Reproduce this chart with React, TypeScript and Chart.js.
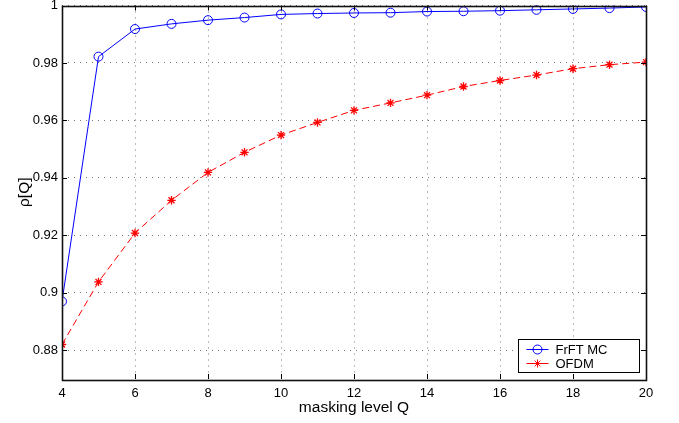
import React, { useEffect, useRef } from "react";
import { Chart, registerables } from "chart.js";

Chart.register(...registerables);

const qValues = [4, 5, 6, 7, 8, 9, 10, 11, 12, 13, 14, 15, 16, 17, 18, 19, 20];
const frftMC = [0.897, 0.9822, 0.9918, 0.9936, 0.9949, 0.9958, 0.9969, 0.9972, 0.9974, 0.9975, 0.9979, 0.998, 0.9982, 0.9985, 0.9988, 0.9991, 0.9995];
const ofdm = [0.882, 0.9038, 0.9208, 0.9322, 0.9419, 0.9489, 0.9549, 0.9593, 0.9635, 0.9661, 0.9688, 0.9718, 0.9739, 0.9758, 0.978, 0.9794, 0.9803];
const seriesLabels = ["FrFT MC", "OFDM"];
const xTickValues = [4, 6, 8, 10, 12, 14, 16, 18, 20];
const xTickLabels = ["4", "6", "8", "10", "12", "14", "16", "18", "20"];
const yTickValues = [0.88, 0.9, 0.92, 0.94, 0.96, 0.98, 1];
const yTickLabels = ["0.88", "0.9", "0.92", "0.94", "0.96", "0.98", "1"];
const xTitle = "masking level Q";
const yTitle = "ρ[Q]";

const FONT = "'Liberation Sans', Arial, Helvetica, sans-serif";

const boxPlugin = {
  id: "boxAndTicks",
  afterDatasetsDraw(chart: any) {
    const { ctx, chartArea, scales } = chart;
    const { left, right, top, bottom } = chartArea;
    ctx.save();
    ctx.strokeStyle = "#000";
    ctx.lineWidth = 1;
    ctx.setLineDash([]);
    const tl = 5;
    ctx.beginPath();
    xTickValues.forEach((v) => {
      const x = Math.round(scales.x.getPixelForValue(v)) + 0.5;
      ctx.moveTo(x, bottom);
      ctx.lineTo(x, bottom - tl);
      ctx.moveTo(x, top);
      ctx.lineTo(x, top + tl);
    });
    yTickValues.forEach((v) => {
      const y = Math.round(scales.y.getPixelForValue(v)) + 0.5;
      ctx.moveTo(left, y);
      ctx.lineTo(left + tl, y);
      ctx.moveTo(right, y);
      ctx.lineTo(right - tl, y);
    });
    ctx.stroke();
    ctx.strokeStyle = "#111";
    ctx.lineWidth = 1.6;
    ctx.strokeRect(Math.round(left) + 0.5, Math.round(top) + 0.5, Math.round(right - left), Math.round(bottom - top));
    ctx.restore();
  },
  afterDraw(chart: any) {
    const { ctx, chartArea } = chart;
    const w = 121;
    const h = 33;
    const bx = Math.round(chartArea.right - 7 - w) + 0.5;
    const by = Math.round(chartArea.bottom - 7 - h) + 0.5;
    ctx.save();
    ctx.fillStyle = "#fff";
    ctx.fillRect(bx, by, w, h);
    ctx.strokeStyle = "#000";
    ctx.lineWidth = 1;
    ctx.setLineDash([]);
    ctx.strokeRect(bx, by, w, h);
    const rows = [by + 10, by + 24];
    chart.data.datasets.forEach((ds: any, i: number) => {
      const y = rows[i];
      const x0 = bx + 8;
      const x1 = bx + 30;
      const xm = (x0 + x1) / 2;
      ctx.strokeStyle = ds.borderColor;
      ctx.lineWidth = 1;
      ctx.beginPath();
      ctx.moveTo(x0, y);
      ctx.lineTo(x1, y);
      ctx.stroke();
      ctx.beginPath();
      if (ds.pointStyle === "circle") {
        ctx.arc(xm, y, 4.5, 0, Math.PI * 2);
      } else {
        const r = 4;
        ctx.moveTo(xm - r, y);
        ctx.lineTo(xm + r, y);
        ctx.moveTo(xm, y - r);
        ctx.lineTo(xm, y + r);
        const d = r * Math.SQRT1_2;
        ctx.moveTo(xm - d, y - d);
        ctx.lineTo(xm + d, y + d);
        ctx.moveTo(xm - d, y + d);
        ctx.lineTo(xm + d, y - d);
      }
      ctx.stroke();
      ctx.fillStyle = "#000";
      ctx.font = `13px ${FONT}`;
      ctx.textBaseline = "middle";
      ctx.textAlign = "left";
      ctx.fillText(ds.label, bx + 37, y + 0.5);
    });
    ctx.restore();
  },
};

export default function App() {
  const ref = useRef<HTMLCanvasElement | null>(null);
  useEffect(() => {
    if (!ref.current) return;
    const chart = new Chart(ref.current, {
      type: "line",
      data: {
        datasets: [
          {
            label: seriesLabels[0],
            data: qValues.map((q, i) => ({ x: q, y: frftMC[i] })),
            borderColor: "#0000ff",
            backgroundColor: "rgba(0,0,0,0)",
            borderWidth: 1,
            pointStyle: "circle",
            pointRadius: 4.5,
            pointBorderWidth: 1,
            pointBorderColor: "#0000ff",
            pointBackgroundColor: "rgba(0,0,0,0)",
            tension: 0,
          },
          {
            label: seriesLabels[1],
            data: qValues.map((q, i) => ({ x: q, y: ofdm[i] })),
            borderColor: "#ff0000",
            backgroundColor: "rgba(0,0,0,0)",
            borderWidth: 1,
            borderDash: [7, 4],
            pointStyle: "star",
            pointRadius: 4.2,
            pointBorderWidth: 1.3,
            pointBorderColor: "#ff0000",
            pointBackgroundColor: "#ff0000",
            tension: 0,
          },
        ],
      },
      options: {
        responsive: false,
        animation: false,
        devicePixelRatio: 1,
        layout: { padding: { top: 5, right: 33, left: 0, bottom: 0 } },
        plugins: {
          legend: { display: false },
          tooltip: { enabled: false },
        },
        scales: {
          x: {
            type: "linear",
            min: 4,
            max: 20,
            afterBuildTicks: (scale: any) => {
              scale.ticks = xTickValues.map((v) => ({ value: v }));
            },
            afterFit: (scale: any) => {
              scale.height = 44;
              scale.paddingLeft = 0;
              scale.paddingRight = 0;
            },
            ticks: {
              autoSkip: false,
              maxRotation: 0,
              padding: 7,
              color: "#000",
              font: { family: FONT, size: 13 },
              callback: (_v: any, i: number) => xTickLabels[i],
            },
            grid: { color: "#777", lineWidth: 1, drawTicks: false },
            border: { display: false, dash: [1, 5] },
            title: {
              display: true,
              text: xTitle,
              color: "#000",
              font: { family: FONT, size: 15.5 },
              padding: { top: 0, bottom: 5.5 },
            },
          },
          y: {
            type: "linear",
            min: 0.87,
            max: 1,
            afterBuildTicks: (scale: any) => {
              scale.ticks = yTickValues.map((v) => ({ value: v }));
            },
            afterFit: (scale: any) => {
              scale.width = 62;
              scale.paddingTop = 0;
              scale.paddingBottom = 0;
            },
            ticks: {
              autoSkip: false,
              padding: 4,
              color: "#000",
              font: { family: FONT, size: 13 },
              callback: (_v: any, i: number) => yTickLabels[i],
            },
            grid: { color: "#777", lineWidth: 1, drawTicks: false },
            border: { display: false, dash: [1, 5] },
            title: {
              display: true,
              text: yTitle,
              color: "#000",
              font: { family: FONT, size: 15.5 },
              padding: { top: 15, bottom: 0 },
            },
          },
        },
      },
      plugins: [boxPlugin],
    } as any);
    return () => chart.destroy();
  }, []);
  return (
    <div style={{ position: "fixed", left: 0, top: 0, width: 679, height: 423, background: "#fff" }}>
      <canvas ref={ref} width={679} height={423} style={{ width: 679, height: 423, display: "block" }} />
    </div>
  );
}
